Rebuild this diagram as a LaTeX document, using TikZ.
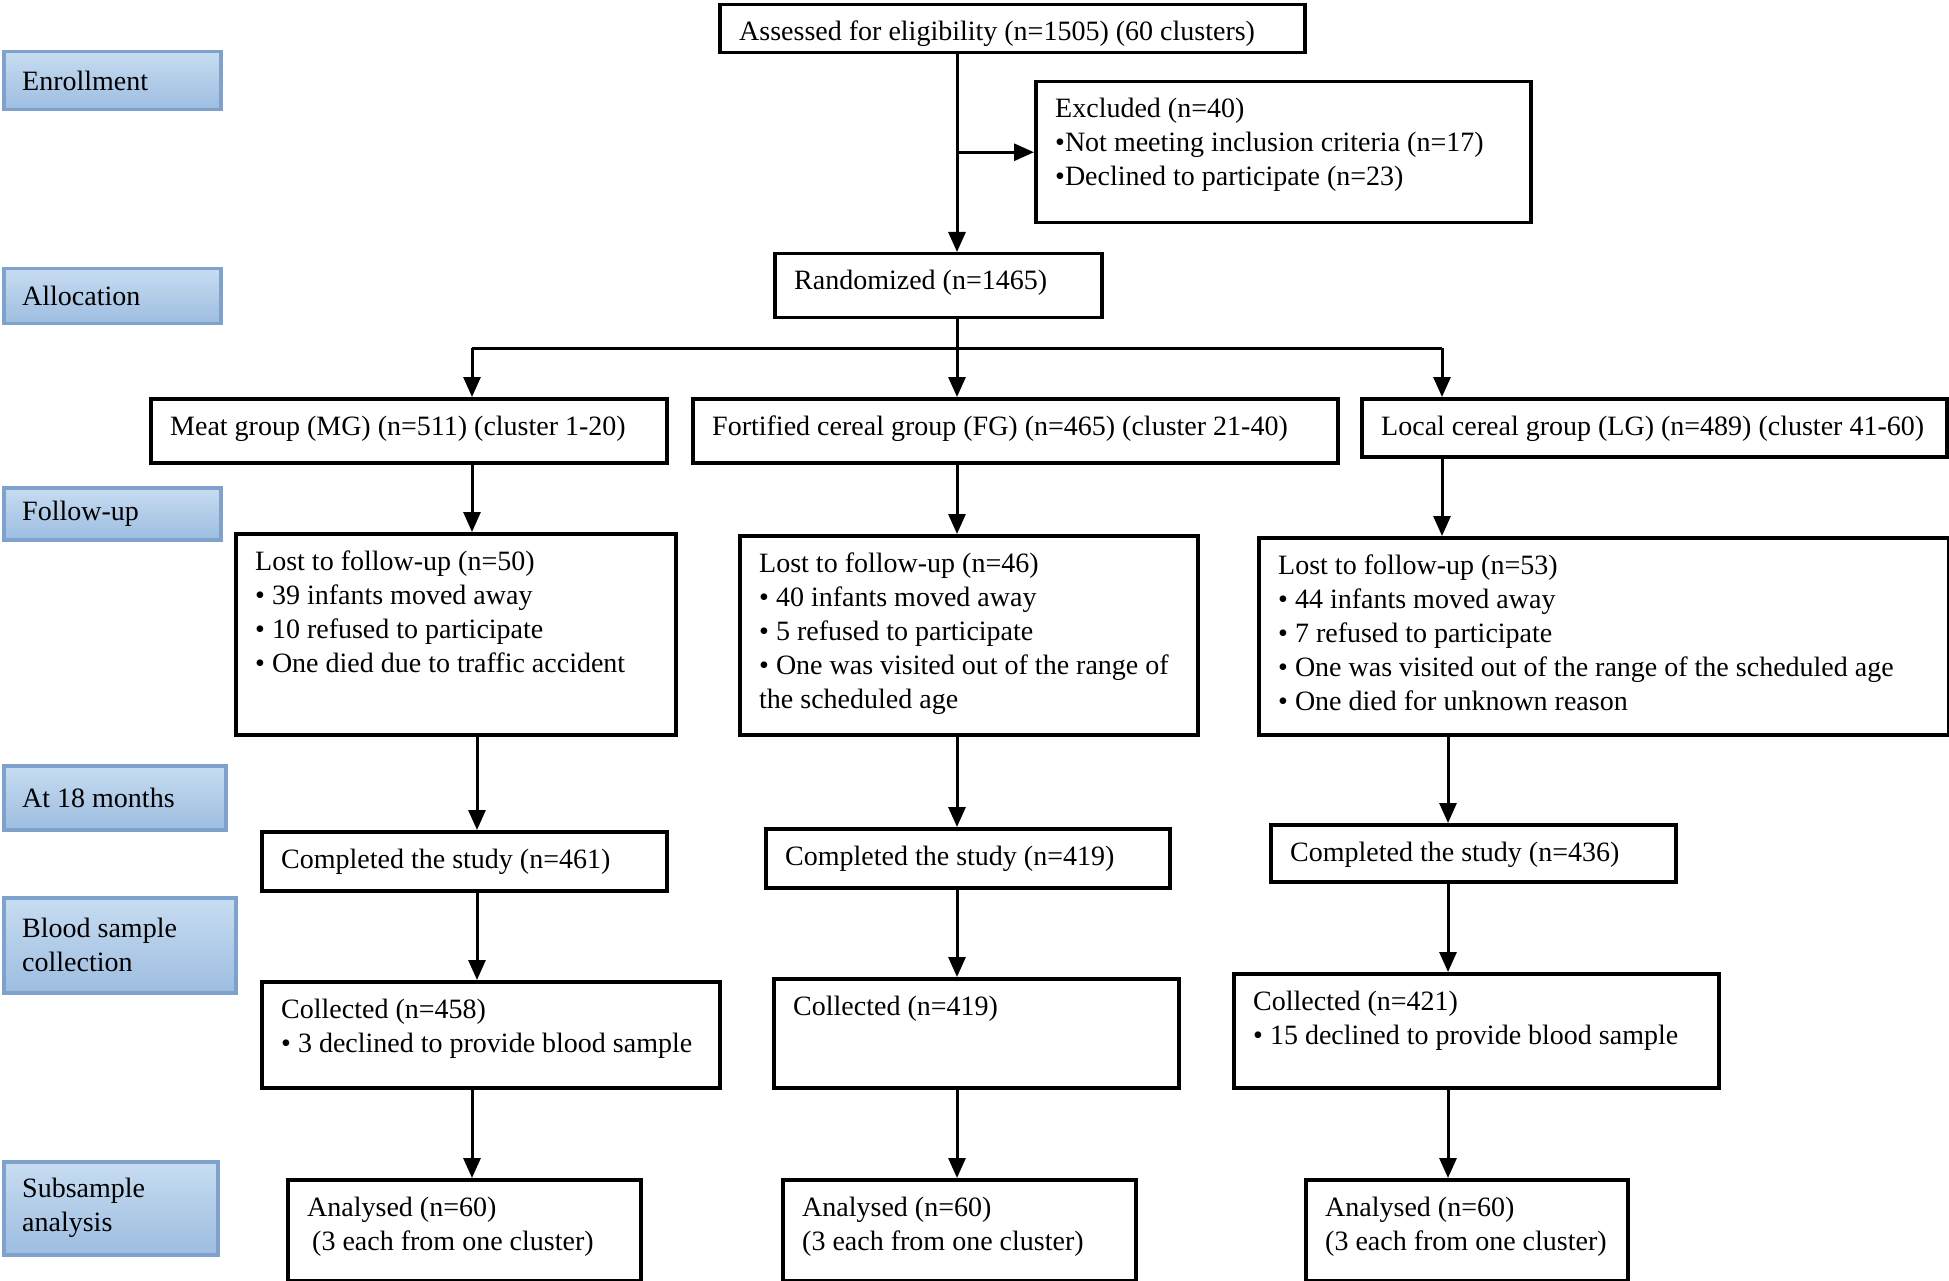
\documentclass[tikz,border=0pt]{standalone}
\usepackage{fontspec}
\setmainfont{Liberation Serif}
\usepackage{tikz}
\usetikzlibrary{positioning,calc,arrows.meta}
\definecolor{stagetop}{HTML}{C7DCF1}
\definecolor{stagebot}{HTML}{9DBDE0}
\definecolor{stageline}{HTML}{7EA2CB}
\newcommand*{\boxlines}[1]{\begin{tabular}[t]{@{}l@{}}#1\end{tabular}}
% box from top left corner: x, y, width, height, name, text
\newcommand*{\flowbox}[6]{%
  \node[box,minimum width=#3pt,minimum height=#4pt] (#5) at (#1,#2) {};
  \node[boxtext] (#5t) at ($(#5.north west)+(21,38)$) {\boxlines{#6}};
}
\newcommand*{\stagebox}[6]{%
  \node[stage,minimum width=#3pt,minimum height=#4pt] (#5) at (#1,#2) {};
  \node[stagetext] (#5t) at ($(#5.west)+(20,0)$) {#6};
}

\begin{document}
\begin{tikzpicture}[x=1pt,y=-1pt]
\tikzstyle{box}=[draw,line width=3.5pt,anchor=north west,inner sep=0pt]
\tikzstyle{boxtext}=[anchor=base west,inner sep=0pt,font=\fontsize{28pt}{34pt}\selectfont]
\tikzstyle{stage}=[draw=stageline,line width=3.5pt,top color=stagetop,bottom color=stagebot,anchor=north west,inner sep=0pt]
\tikzstyle{stagetext}=[anchor=west,inner sep=0pt,align=left,font=\fontsize{28pt}{34pt}\selectfont]
\tikzstyle{arr}=[line width=3pt,-{Triangle[length=20pt,width=17pt]}]
\tikzstyle{line}=[line width=3pt]
\useasboundingbox (0,0) rectangle (1949,1281);

\stagebox{2}{50}{217}{58}{enrol}{Enrollment}
\stagebox{2}{267}{217}{55}{alloc}{Allocation}
\stagebox{2}{486}{217}{52}{follow}{Follow-up}
\stagebox{2}{764}{222}{64}{month}{At 18 months}
\stagebox{2}{896}{232}{95}{blood}{Blood sample\\collection}
\stagebox{2}{1160}{214}{93}{subs}{Subsample\\analysis}

\flowbox{718}{3}{585}{48}{assess}{Assessed for eligibility (n=1505) (60 clusters)}
\flowbox{1034}{80}{495}{141}{excl}{Excluded (n=40)\\\textbullet Not meeting inclusion criteria (n=17)\\\textbullet Declined to participate (n=23)}
\flowbox{773}{252}{327}{64}{rand}{Randomized (n=1465)}

\flowbox{149}{397}{516}{64}{mg}{Meat group (MG) (n=511) (cluster 1-20)}
\flowbox{691}{397}{645}{64}{fg}{Fortified cereal group (FG) (n=465) (cluster 21-40)}
\flowbox{1360}{397}{585}{58}{lg}{Local cereal group (LG) (n=489) (cluster 41-60)}

\flowbox{234}{532}{440}{201}{lostm}{Lost to follow-up (n=50)\\\textbullet\ 39 infants moved away\\\textbullet\ 10 refused to participate\\\textbullet\ One died due to traffic accident}
\flowbox{738}{534}{458}{199}{lostf}{Lost to follow-up (n=46)\\\textbullet\ 40 infants moved away\\\textbullet\ 5 refused to participate\\\textbullet\ One was visited out of the range of\\the scheduled age}
\flowbox{1257}{536}{690}{197}{lostl}{Lost to follow-up (n=53)\\\textbullet\ 44 infants moved away\\\textbullet\ 7 refused to participate\\\textbullet\ One was visited out of the range of the scheduled age\\\textbullet\ One died for unknown reason}

\flowbox{260}{830}{405}{59}{compm}{Completed the study (n=461)}
\flowbox{764}{827}{404}{59}{compf}{Completed the study (n=419)}
\flowbox{1269}{823}{405}{57}{compl}{Completed the study (n=436)}

\flowbox{260}{980}{458}{106}{collm}{Collected (n=458)\\\textbullet\ 3 declined to provide blood sample}
\flowbox{772}{977}{405}{109}{collf}{Collected (n=419)}
\flowbox{1232}{972}{485}{114}{colll}{Collected (n=421)\\\textbullet\ 15 declined to provide blood sample}

\flowbox{286}{1178}{353}{101}{anam}{Analysed (n=60)\\\hspace{5pt}(3 each from one cluster)}
\flowbox{781}{1178}{353}{101}{anaf}{Analysed (n=60)\\(3 each from one cluster)}
\flowbox{1304}{1178}{322}{101}{anal}{Analysed (n=60)\\(3 each from one cluster)}

\coordinate (mcol) at (472,348);
\coordinate (fcol) at (957,348);
\coordinate (lcol) at (1442,348);
\coordinate (mcol2) at (477,0);
\coordinate (lcol2) at (1448,0);

\draw[arr] (assess.south -| fcol) -- (rand.north -| fcol);
\draw[arr] (excl.west -| fcol) -- (excl.west);
\draw[line] (rand.south -| fcol) -- (fcol);
\draw[line] (mcol) -- (lcol);
\draw[arr] (mcol) -- (mg.north -| mcol);
\draw[arr] (fcol) -- (fg.north -| fcol);
\draw[arr] (lcol) -- (lg.north -| lcol);

\draw[arr] (mg.south -| mcol) -- (lostm.north -| mcol);
\draw[arr] (fg.south -| fcol) -- (lostf.north -| fcol);
\draw[arr] (lg.south -| lcol) -- (lostl.north -| lcol);

\draw[arr] (lostm.south -| mcol2) -- (compm.north -| mcol2);
\draw[arr] (lostf.south -| fcol) -- (compf.north -| fcol);
\draw[arr] (lostl.south -| lcol2) -- (compl.north -| lcol2);

\draw[arr] (compm.south -| mcol2) -- (collm.north -| mcol2);
\draw[arr] (compf.south -| fcol) -- (collf.north -| fcol);
\draw[arr] (compl.south -| lcol2) -- (colll.north -| lcol2);

\draw[arr] (collm.south -| mcol) -- (anam.north -| mcol);
\draw[arr] (collf.south -| fcol) -- (anaf.north -| fcol);
\draw[arr] (colll.south -| lcol2) -- (anal.north -| lcol2);

\end{tikzpicture}
\end{document}
